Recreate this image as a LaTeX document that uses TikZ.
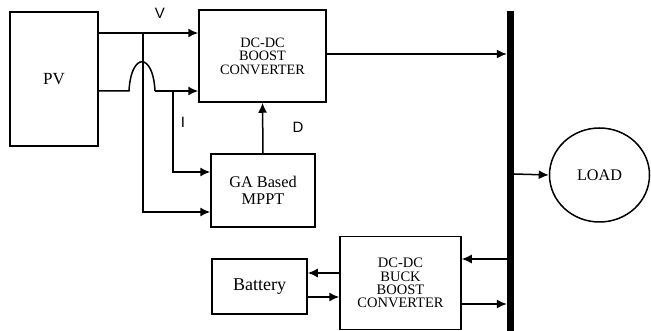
\documentclass[tikz,border=0pt]{standalone}
\usepackage{fontspec}
\setmainfont{Liberation Serif}
\newfontfamily\lblfont{Liberation Sans}
\usetikzlibrary{arrows.meta,shapes.geometric}
\begin{document}
\begin{tikzpicture}[x=1pt,y=-1pt,
  blk/.style={draw,line width=1.5pt,rectangle,inner sep=0pt,align=center},
  conn/.style={line width=1.5pt,-{Latex[length=10pt,width=9pt]}},
  wire/.style={line width=1.5pt},
  lbl/.style={font=\lblfont\fontsize{15}{15}\selectfont,inner sep=0pt}]
\useasboundingbox (0,0) rectangle (651,331);
% blocks
\node[blk,minimum width=88pt,minimum height=134pt,font=\fontsize{17}{17}\selectfont] (pv) at (54,79) {PV};
\node[blk,minimum width=127pt,minimum height=92pt,font=\fontsize{14.3}{13.5}\selectfont] (boost) at (262.5,56) {DC-DC\\BOOST\\CONVERTER};
\node[blk,minimum width=104pt,minimum height=73pt,font=\fontsize{16.3}{17}\selectfont] (mppt) at (263,190.5) {GA Based\\MPPT};
\node[blk,minimum width=95pt,minimum height=55pt,font=\fontsize{18}{18}\selectfont] (bat) at (259.5,286.5) {Battery};
\node[blk,minimum width=121pt,minimum height=93pt,font=\fontsize{14.5}{13.2}\selectfont] (buck) at (400.5,283) {DC-DC\\BUCK\\BOOST\\CONVERTER};
\node[draw,ellipse,line width=1.5pt,minimum width=100pt,minimum height=94pt,inner sep=0pt,font=\fontsize{16.2}{16}\selectfont] (load) at (599.5,175) {LOAD};
\node[fill=black,draw=none,minimum width=7pt,minimum height=321pt,inner sep=0pt] (bus) at (510.5,171.5) {};
% labels
\node[lbl] (vl) at (160,13) {V};
\node[lbl] (il) at (183,122) {I};
\node[lbl] (dl) at (298,127.5) {D};
% coordinates
\coordinate (vtop) at (pv.east |- 0,33);
\coordinate (vin) at (boost.west |- 0,33);
\coordinate (vj) at (143,33);
\coordinate (vb) at (143,212);
\coordinate (ilow) at (pv.east |- 0,91);
\coordinate (iin) at (boost.west |- 0,91);
\coordinate (h1) at (129,91);
\coordinate (h2) at (155,91);
\coordinate (ij) at (173,91);
\coordinate (ib) at (173,172);
% PV to boost
\draw[conn] (vtop) -- (vin);
\draw[wire] (ilow) -- (h1) .. controls (131,52) and (153,52) .. (h2);
\draw[conn] (h2) -- (iin);
% sensing lines to MPPT
\draw[conn] (vj) -- (vb) -- (mppt.west |- vb);
\draw[conn] (ij) -- (ib) -- (mppt.west |- ib);
% D
\draw[conn] (mppt.north) -- (boost.south);
% boost to bus
\draw[conn] (boost.east |- 0,54) -- (bus.west |- 0,54);
% bus to load
\draw[conn] (bus.east |- 0,174) -- (load.west);
% bus to/from buck
\draw[conn] (bus.west |- 0,259) -- (buck.east |- 0,259);
\draw[conn] (buck.east |- 0,304) -- (bus.west |- 0,304);
% buck to/from battery
\draw[conn] (buck.west |- 0,273) -- (bat.east |- 0,273);
\draw[conn] (bat.east |- 0,297) -- (buck.west |- 0,297);
\end{tikzpicture}
\end{document}
